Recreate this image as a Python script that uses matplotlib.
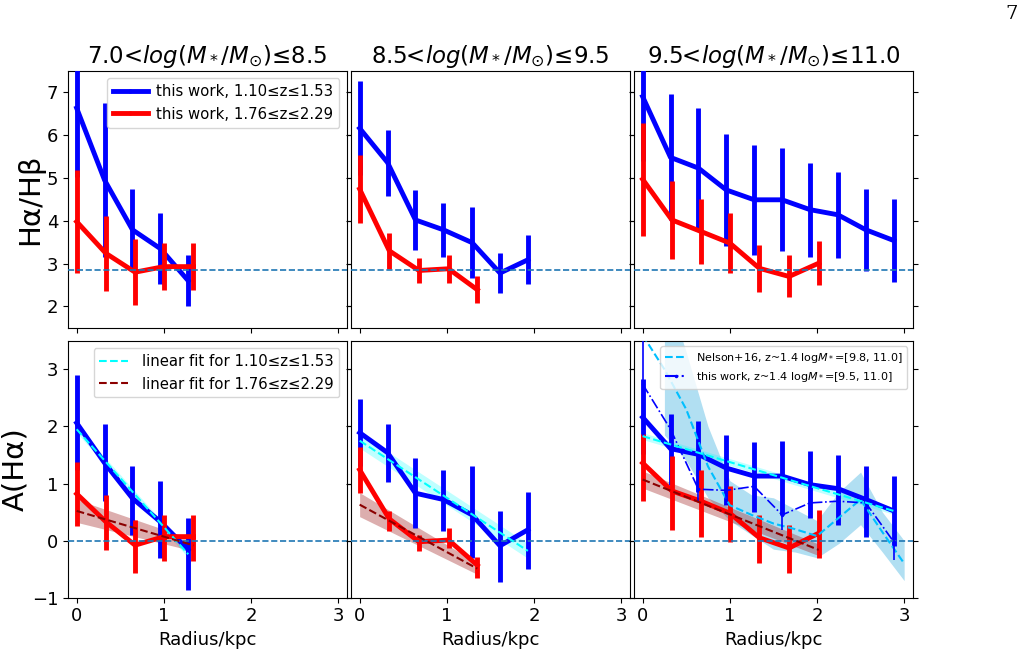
import numpy as np
import matplotlib
matplotlib.use("Agg")
import matplotlib.pyplot as plt
from matplotlib.lines import Line2D

# ---------------- data ----------------
titles = ["7.0<$log(M_*/M_{\\odot})$≤8.5",
          "8.5<$log(M_*/M_{\\odot})$≤9.5",
          "9.5<$log(M_*/M_{\\odot})$≤11.0"]

# radii of the bins
r_blue = [[0.0, 0.32, 0.64, 0.96, 1.28],
          [0.0, 0.32, 0.64, 0.96, 1.29, 1.61, 1.93],
          [0.0, 0.32, 0.64, 0.96, 1.28, 1.60, 1.92, 2.24, 2.56, 2.88]]
r_red = [[0.0, 0.335, 0.67, 1.0, 1.34],
         [0.0, 0.34, 0.68, 1.02, 1.35],
         [0.0, 0.336, 0.67, 1.0, 1.34, 1.68, 2.02]]

# Balmer decrement Ha/Hb
bd_blue = [[6.63, 4.95, 3.79, 3.35, 2.60],
           [6.16, 5.36, 4.02, 3.79, 3.49, 2.78, 3.09],
           [6.90, 5.48, 5.23, 4.72, 4.49, 4.49, 4.26, 4.14, 3.79, 3.54]]
bd_blue_err = [[1.6, 1.8, 0.95, 0.83, 0.6],
               [1.1, 0.77, 0.7, 0.63, 0.83, 0.46, 0.57],
               [1.5, 1.47, 1.4, 1.3, 1.28, 1.2, 1.1, 1.0, 0.96, 0.97]]
bd_red = [[3.98, 3.24, 2.80, 2.93, 2.93],
          [4.74, 3.30, 2.84, 2.88, 2.39],
          [4.97, 4.02, 3.75, 3.48, 2.89, 2.70, 3.01]]
bd_red_err = [[1.2, 0.88, 0.77, 0.55, 0.55],
              [0.8, 0.42, 0.3, 0.33, 0.31],
              [1.32, 0.92, 0.76, 0.7, 0.55, 0.49, 0.51]]

# A(Ha)
ah_blue = [[2.06, 1.36, 0.74, 0.33, -0.16],
           [1.89, 1.54, 0.83, 0.72, 0.45, -0.09, 0.19],
           [2.16, 1.61, 1.51, 1.27, 1.13, 1.13, 0.98, 0.91, 0.72, 0.52]]
ah_blue_lo = [[0.82, 0.67, 0.64, 0.63, 0.71],
              [0.58, 0.52, 0.61, 0.56, 0.76, 0.63, 0.68],
              [0.65, 0.63, 0.65, 0.64, 0.63, 0.69, 0.59, 0.63, 0.65, 0.61]]
ah_blue_hi = [[0.84, 0.68, 0.57, 0.72, 0.55],
              [0.59, 0.51, 0.62, 0.52, 0.85, 0.61, 0.67],
              [0.67, 0.60, 0.58, 0.58, 0.59, 0.62, 0.59, 0.59, 0.58, 0.62]]
ah_red = [[0.82, 0.33, -0.08, 0.07, 0.07],
          [1.24, 0.38, -0.02, 0.01, -0.43],
          [1.36, 0.87, 0.69, 0.48, 0.05, -0.13, 0.13]]
ah_red_lo = [[0.57, 0.49, 0.48, 0.42, 0.42],
             [0.41, 0.21, 0.16, 0.14, 0.22],
             [0.67, 0.68, 0.62, 0.51, 0.44, 0.43, 0.43]]
ah_red_hi = [[0.56, 0.46, 0.44, 0.38, 0.38],
             [0.40, 0.13, 0.12, 0.21, 0.15],
             [0.50, 0.61, 0.54, 0.47, 0.40, 0.41, 0.41]]

# linear fits: intercept, slope, band half-width at start/end
fit_blue = [(1.95, -1.71), (1.75, -1.00), (1.83, -0.455)]
fit_blue_band = [(0.06, 0.06), (0.13, 0.13), (0.06, 0.06)]
fit_red = [(0.52, -0.45), (0.63, -0.83), (1.07, -0.61)]
fit_red_band = [(0.2, 0.1), (0.21, 0.1), (0.15, 0.1)]

# Nelson+16 profile (z~1.4, logM*=[9.8, 11.0])
nelson_r = [0.0, 0.25, 0.5, 0.75, 1.0, 1.25, 1.5, 1.75, 2.0, 2.25, 2.5, 2.75, 3.0]
nelson_a = [3.6, 3.0, 2.3, 1.3, 0.62, 0.45, 0.3, 0.2, 0.08, 0.4, 0.72, 0.15, -0.4]
nelson_lo = [np.nan, 1.85, 1.4, 0.75, 0.35, 0.1, -0.15, -0.2, -0.3, -0.05, 0.28, -0.2, -0.7]
nelson_hi = [np.nan, 4.5, 3.3, 2.0, 1.05, 0.8, 0.75, 0.55, 0.35, 0.85, 1.2, 0.5, 0.0]

# this work, z~1.4, logM*=[9.5, 11.0]
tw_r = [0.0, 0.32, 0.64, 0.96, 1.28, 1.60, 1.92, 2.24, 2.56, 2.88]
tw_a = [2.74, 1.95, 0.90, 0.88, 0.95, 0.45, 0.66, 0.69, 0.66, -0.02]
tw_err = [0.9, 0.2, 0.2, 0.2, 0.2, 0.26, 0.2, 0.2, 0.2, 0.32]

bd_ref = 2.86
xticks = [0, 1, 2, 3]

# ---------------- figure ----------------
fig, axes = plt.subplots(2, 3, figsize=(10.28, 6.49), dpi=100,
                         sharex=True, sharey='row')
fig.subplots_adjust(left=0.0661, right=0.888, top=0.8908, bottom=0.079,
                    wspace=0.0143, hspace=0.05)

lw = 3.5
for i in range(3):
    ax = axes[0, i]
    ax.errorbar(r_blue[i], bd_blue[i], yerr=bd_blue_err[i], color='blue',
                lw=lw, elinewidth=lw, marker='.', ms=3, zorder=3)
    ax.errorbar(r_red[i], bd_red[i], yerr=bd_red_err[i], color='red',
                lw=lw, elinewidth=lw, marker='.', ms=3, zorder=4)
    ax.axhline(bd_ref, ls='--', color='C0', lw=1.2, zorder=5)
    ax.set_title(titles[i], fontsize=16.5)
    ax.set_ylim(1.5, 7.5)
    ax.set_yticks([2, 3, 4, 5, 6, 7])

    ax = axes[1, i]
    ax.errorbar(r_blue[i], ah_blue[i], yerr=[ah_blue_lo[i], ah_blue_hi[i]],
                color='blue', lw=lw, elinewidth=lw, marker='.', ms=3, zorder=3)
    ax.errorbar(r_red[i], ah_red[i], yerr=[ah_red_lo[i], ah_red_hi[i]],
                color='red', lw=lw, elinewidth=lw, marker='.', ms=3, zorder=4)
    # fits
    xb = np.array([r_blue[i][0], r_blue[i][-1]])
    yb = fit_blue[i][0] + fit_blue[i][1] * xb
    wb = np.array(fit_blue_band[i])
    ax.fill_between(xb, yb - wb, yb + wb, color='cyan', alpha=0.25, lw=0, zorder=2)
    ax.plot(xb, yb, ls='--', color='cyan', lw=1.5, zorder=6)
    xr = np.array([r_red[i][0], r_red[i][-1]])
    yr = fit_red[i][0] + fit_red[i][1] * xr
    wr = np.array(fit_red_band[i])
    ax.fill_between(xr, yr - wr, yr + wr, color='brown', alpha=0.38, lw=0, zorder=2)
    ax.plot(xr, yr, ls='--', color='darkred', lw=1.5, zorder=6)
    ax.axhline(0, ls='--', color='C0', lw=1.2, zorder=5)
    ax.set_ylim(-1, 3.5)
    ax.set_yticks([-1, 0, 1, 2, 3])
    ax.set_xlabel('Radius/kpc', fontsize=13)

ax = axes[1, 2]
ax.fill_between(nelson_r, nelson_lo, nelson_hi, color='skyblue',
                alpha=0.65, lw=0, zorder=1)
ax.plot(nelson_r, nelson_a, ls='--', color='deepskyblue', lw=1.5, zorder=5)
ax.errorbar(tw_r, tw_a, yerr=tw_err, color='blue', ls='-.', lw=1.2,
            elinewidth=1.2, marker='.', ms=3, zorder=5)

for ax in axes.flat:
    ax.set_xlim(-0.1, 3.1)
    ax.set_xticks(xticks)
    ax.tick_params(labelsize=13, right=True)

axes[0, 0].set_ylabel('Hα/Hβ', fontsize=21, labelpad=2)
axes[1, 0].set_ylabel('A(Hα)', fontsize=21, labelpad=2)

# legends
h_top = [Line2D([], [], color='blue', lw=lw, marker='.', ms=4),
         Line2D([], [], color='red', lw=lw, marker='.', ms=4)]
axes[0, 0].legend(h_top, ['this work, 1.10≤z≤1.53', 'this work, 1.76≤z≤2.29'],
                  loc='upper right', fontsize=10.7, handlelength=2.35,
                  handletextpad=0.6)
h_fit = [Line2D([], [], color='cyan', ls='--', lw=1.5),
         Line2D([], [], color='darkred', ls='--', lw=1.5)]
axes[1, 0].legend(h_fit, ['linear fit for 1.10≤z≤1.53', 'linear fit for 1.76≤z≤2.29'],
                  loc='upper right', fontsize=10.7, handlelength=1.95,
                  handletextpad=0.9)
h_br = [Line2D([], [], color='deepskyblue', ls='--', lw=1.5),
        Line2D([], [], color='blue', ls='-.', lw=1.5, marker='.', ms=3)]
axes[1, 2].legend(h_br, ['Nelson+16, z~1.4 log$M_*$=[9.8, 11.0]',
                         'this work, z~1.4 log$M_*$=[9.5, 11.0]'],
                  loc='upper right', fontsize=8.0, handlelength=2.0)

fig.text(0.99, 0.992, '7', fontsize=14, family='DejaVu Serif',
         ha='right', va='top')

fig.savefig('out.png', dpi=100)
